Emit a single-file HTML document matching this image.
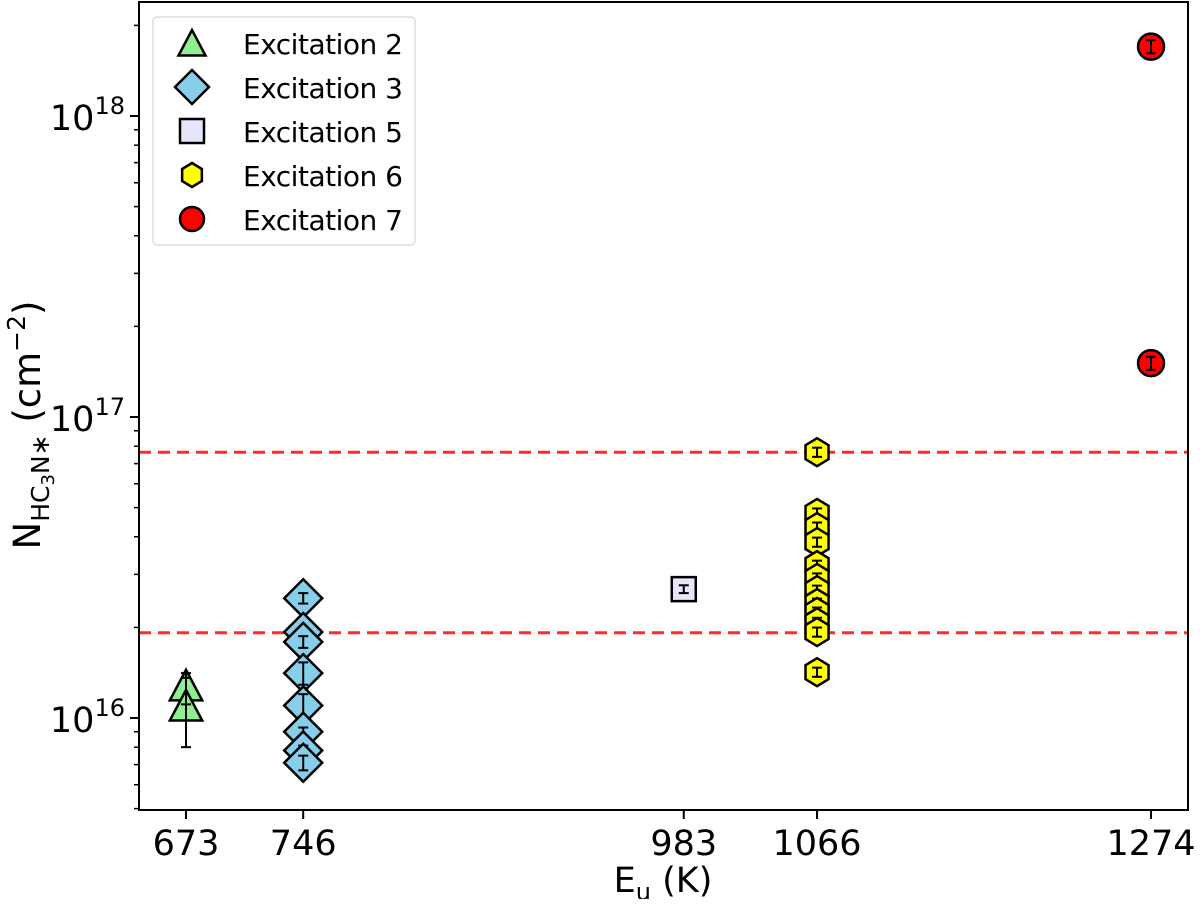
<!DOCTYPE html>
<html><head><meta charset="utf-8"><style>
body{margin:0;background:#fff}
svg text{font-family:"DejaVu Sans","Liberation Sans",sans-serif;fill:#000}
</style></head><body>
<svg id="chart" width="1200" height="899" xmlns="http://www.w3.org/2000/svg">
<g id="grid"></g><g id="marks"></g><g id="axes"></g><g id="legend"></g>
</svg>
<script>
const xTicks=[673,746,983,1066,1274];
const yMajor=[16,17,18];
const exc2X=[673,673];
const exc2Y=[1.26e16,1.08e16];
const exc2Err=[0.15e16,0.28e16];
const exc3Y=[2.5e16,1.93e16,1.79e16,1.41e16,1.10e16,0.90e16,0.78e16,0.71e16];
const exc3Err=[0.1e16,0.08e16,0.08e16,0.12e16,0.1e16,0.03e16,0.03e16,0.04e16];
const exc5Y=[2.68e16];
const exc6Y=[7.64e16,4.8e16,4.31e16,3.84e16,3.22e16,2.92e16,2.66e16,2.41e16,2.25e16,2.08e16,1.93e16,1.42e16];
const exc7Y=[1.7e18,1.51e17];
const hLines=[7.64e16,1.92e16];
const NS='http://www.w3.org/2000/svg';
const L=139,R=1188,T=2,B=810;
const x=v=>186+(v-673)*1.6057;
const y=v=>718-(Math.log10(v)-16)*301;
function el(tag,a,p){const e=document.createElementNS(NS,tag);for(const k in a)e.setAttribute(k,a[k]);(p||document.getElementById('marks')).appendChild(e);return e;}
const ax=document.getElementById('axes'),mk=document.getElementById('marks'),gr=document.getElementById('grid');
hLines.forEach(v=>{const l=el('line',{x1:L,x2:R,y1:y(v),y2:y(v),stroke:'#ff2a2a','stroke-width':3,'stroke-dasharray':'12,7'},gr);

});
function err(cx,v,e){const t=y(v+e),b=y(Math.max(v-e,1e10));
el('line',{x1:cx,x2:cx,y1:t,y2:b,stroke:'#000','stroke-width':2});
el('line',{x1:cx-5,x2:cx+5,y1:t,y2:t,stroke:'#000','stroke-width':2});
el('line',{x1:cx-5,x2:cx+5,y1:b,y2:b,stroke:'#000','stroke-width':2});}
function tri(cx,cy,fill,s,p){return el('polygon',{points:`${cx},${cy-s} ${cx-s*0.9},${cy+s*0.7} ${cx+s*0.9},${cy+s*0.7}`,fill:fill,stroke:'#000','stroke-width':2.5},p);}
function dia(cx,cy,s,p){return el('polygon',{points:`${cx},${cy-s} ${cx+s},${cy} ${cx},${cy+s} ${cx-s},${cy}`,fill:'#87ceeb',stroke:'#000','stroke-width':2.5},p);}
function sq(cx,cy,s,p){return el('rect',{x:cx-s,y:cy-s,width:2*s,height:2*s,fill:'#e6e6fa',stroke:'#000','stroke-width':2.5},p);}
function hex(cx,cy,s,p){const pts=[];for(let i=0;i<6;i++){const a=Math.PI/3*i-Math.PI/2;pts.push((cx+s*0.95*Math.cos(a))+','+(cy+s*Math.sin(a)));}return el('polygon',{points:pts.join(' '),fill:'#ffff00',stroke:'#000','stroke-width':2.5},p);}
function circ(cx,cy,s,p){return el('circle',{cx:cx,cy:cy,r:s,fill:'#ff0000',stroke:'#000','stroke-width':2.5},p);}
exc2Y.forEach((v,i)=>{const m=tri(x(exc2X[i]),y(v),'#90ee90',18);

});
exc2Y.forEach((v,i)=>err(x(673),v,exc2Err[i]));
exc3Y.forEach((v,i)=>{const m=dia(x(746),y(v),19);


err(x(746),v,exc3Err[i]);});
exc5Y.forEach(v=>{const m=sq(x(983),y(v),12);


err(x(983),v,0.08e16);});
exc6Y.forEach(v=>{const m=hex(x(1066),y(v),14);


err(x(1066),v,v*0.035);});
exc7Y.forEach(v=>{const m=circ(x(1274),y(v),13);


err(x(1274),v,v*0.05);});
const fr=el('rect',{x:L,y:T,width:R-L,height:B-T,fill:'none',stroke:'#000','stroke-width':2},ax);


xTicks.forEach(v=>{el('line',{x1:x(v),x2:x(v),y1:B,y2:B+9,stroke:'#000','stroke-width':2},ax);
const t=el('text',{x:x(v),y:B+45,'font-size':35,'text-anchor':'middle'},ax);t.textContent=v;

});
yMajor.forEach(d=>{const yy=y(Math.pow(10,d));el('line',{x1:L-9,x2:L,y1:yy,y2:yy,stroke:'#000','stroke-width':2},ax);
const t=el('text',{x:L-14,y:yy+14,'font-size':35,'text-anchor':'end'},ax);


t.innerHTML='10<tspan dy="-16" font-size="24">'+d+'</tspan>';});
for(let d=15;d<=18;d++)for(let k=2;k<=9;k++){const v=k*Math.pow(10,d);const yy=y(v);if(yy<T||yy>B)continue;el('line',{x1:L-5,x2:L,y1:yy,y2:yy,stroke:'#000','stroke-width':1.5},ax);}
const xl=el('text',{x:663,y:892,'font-size':35,'text-anchor':'middle'},ax);xl.innerHTML='E<tspan dy="8" font-size="24">u</tspan><tspan dy="-8"> (K)</tspan>';


const yl=el('text',{transform:'translate(40,425) rotate(-90)','font-size':37,'text-anchor':'middle'},ax);
yl.innerHTML='N<tspan dy="9" font-size="25">HC</tspan><tspan dy="5" font-size="18">3</tspan><tspan dy="-5" font-size="25">N∗</tspan><tspan dy="-9"> (cm</tspan><tspan dy="-15" font-size="25">−2</tspan><tspan dy="15">)</tspan>';


const lg=document.getElementById('legend');


el('rect',{x:153,y:17,width:262,height:228,rx:4,fill:'#fff',stroke:'#ddd','stroke-width':1.5},lg);
const names=['Excitation 2','Excitation 3','Excitation 5','Excitation 6','Excitation 7'];
const fns=[(c,r)=>tri(c,r+2,'#90ee90',15,lg),(c,r)=>dia(c,r,17,lg),(c,r)=>sq(c,r,12,lg),(c,r)=>hex(c,r,12,lg),(c,r)=>circ(c,r,12,lg)];
names.forEach((n,i)=>{const r=43+i*44;fns[i](192,r);const t=el('text',{x:243,y:r+11,'font-size':28,textLength:160},lg);t.textContent=n;

});
</script>
</body></html>
